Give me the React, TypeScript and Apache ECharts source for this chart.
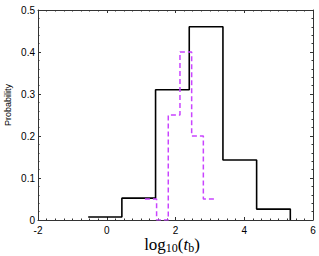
import React, { useEffect, useRef } from "react";
import * as echarts from "echarts";

// Black histogram (bin edges and probability per bin)
const blackEdges = [-0.54, 0.44, 1.42, 2.4, 3.38, 4.36, 5.34];
const blackProb = [0.007, 0.052, 0.31, 0.46, 0.143, 0.026];

// Magenta dashed histogram
const magentaEdges = [1.11, 1.45, 1.79, 2.13, 2.47, 2.81, 3.15];
const magentaProb = [0.05, 0, 0.25, 0.4, 0.2, 0.05];

const xTicks = [-2, 0, 2, 4, 6];
const yTicks = [0, 0.1, 0.2, 0.3, 0.4, 0.5];

const AXIS_COLOR = "#333";
const FONT = "Liberation Sans";

function stepData(edges: number[], vals: number[], endDrop: boolean) {
  const d: number[][] = [];
  for (let i = 0; i < vals.length; i++) d.push([edges[i], vals[i]]);
  d.push([edges[edges.length - 1], endDrop ? 0 : vals[vals.length - 1]]);
  return d;
}

function axisCommon(showLabel: boolean) {
  return {
    axisLine: { show: true, onZero: false, lineStyle: { color: AXIS_COLOR, width: 1 } },
    axisTick: { show: true, inside: true, length: 3, lineStyle: { color: AXIS_COLOR } },
    minorTick: { show: true, length: 1.5, lineStyle: { color: AXIS_COLOR } },
    splitLine: { show: false },
    axisLabel: {
      show: showLabel,
      color: "#000",
      fontFamily: FONT,
      fontSize: 10,
    },
  };
}

export default function App() {
  const ref = useRef<HTMLDivElement>(null);
  useEffect(() => {
    document.body.style.margin = "0";
    if (!ref.current) return;
    const chart = echarts.init(ref.current, undefined, { renderer: "svg" });
    const xc = axisCommon(true);
    const yc = axisCommon(true);
    chart.setOption({
      animation: false,
      backgroundColor: "#fff",
      grid: { left: 38, right: 6, top: 10, bottom: 36, containLabel: false },
      xAxis: [
        {
          type: "value",
          position: "bottom",
          min: xTicks[0],
          max: xTicks[xTicks.length - 1],
          interval: 2,
          ...xc,
          minorTick: { ...xc.minorTick, splitNumber: 8 },
          axisLabel: { ...xc.axisLabel, margin: 5 },
        },
        {
          type: "value",
          position: "top",
          min: xTicks[0],
          max: xTicks[xTicks.length - 1],
          interval: 2,
          ...axisCommon(false),
          minorTick: { ...xc.minorTick, splitNumber: 8 },
        },
      ],
      yAxis: [
        {
          type: "value",
          position: "left",
          min: yTicks[0],
          max: yTicks[yTicks.length - 1],
          interval: 0.1,
          ...yc,
          minorTick: { ...yc.minorTick, splitNumber: 5 },
          axisLabel: {
            ...yc.axisLabel,
            margin: 3,
            formatter: (v: number) => (v === 0 ? "0" : v.toFixed(1)),
          },
        },
        {
          type: "value",
          position: "right",
          min: yTicks[0],
          max: yTicks[yTicks.length - 1],
          interval: 0.1,
          ...axisCommon(false),
          minorTick: { ...yc.minorTick, splitNumber: 5 },
        },
      ],
      series: [
        {
          type: "line",
          step: "end",
          xAxisIndex: 0,
          yAxisIndex: 0,
          data: stepData(blackEdges, blackProb, true),
          showSymbol: false,
          symbol: "none",
          lineStyle: { color: "#000", width: 1.6 },
          z: 3,
        },
        {
          type: "line",
          step: "end",
          xAxisIndex: 0,
          yAxisIndex: 0,
          data: stepData(magentaEdges, magentaProb, false),
          showSymbol: false,
          symbol: "none",
          lineStyle: { color: "#c944ff", width: 1.5, type: [5, 3] },
          z: 4,
        },
      ],
      graphic: [
        {
          type: "text",
          x: 3,
          y: 105,
          rotation: Math.PI / 2,
          style: {
            text: "Probability",
            fontFamily: FONT,
            fontSize: 9,
            fill: "#000",
            align: "center",
            verticalAlign: "top",
          },
        },
        {
          type: "text",
          x: 172,
          y: 236,
          style: {
            text: "{a|log}{s|10}{a|(}{i|t}{s|b}{a|)}",
            align: "center",
            verticalAlign: "top",
            fill: "#000",
            rich: {
              a: { fontFamily: "Liberation Serif", fontSize: 17, lineHeight: 15, verticalAlign: "top", fill: "#000" },
              i: { fontFamily: "Liberation Serif", fontStyle: "italic", fontSize: 17, lineHeight: 15, verticalAlign: "top", fill: "#000" },
              s: { fontFamily: "Liberation Serif", fontSize: 12, lineHeight: 10, padding: [6, 0, 0, 0], verticalAlign: "top", fill: "#000" },
            },
          },
        },
      ],
    });
    return () => chart.dispose();
  }, []);
  return <div ref={ref} style={{ width: 319, height: 256 }} />;
}
